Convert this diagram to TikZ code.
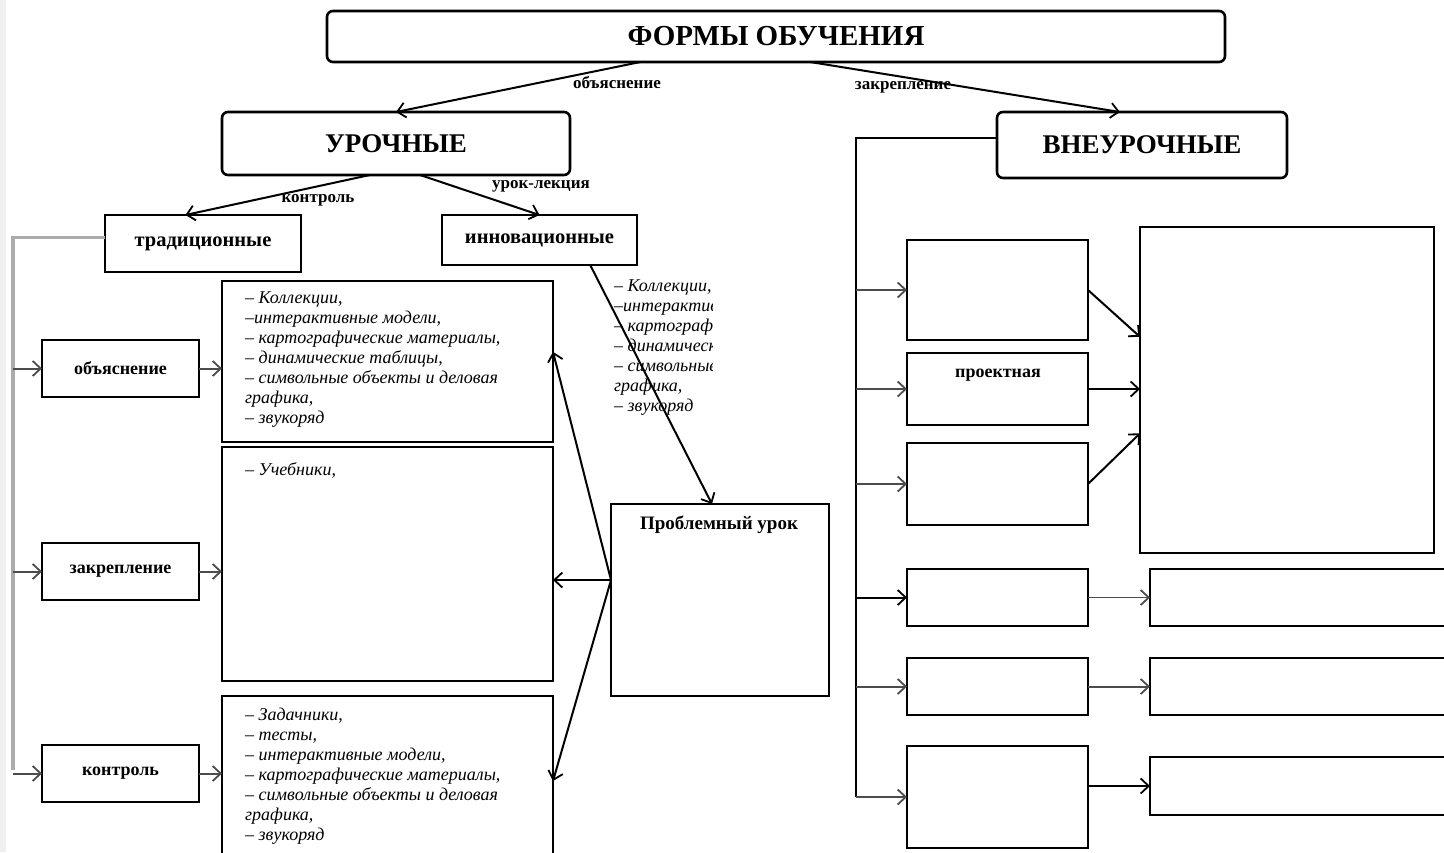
\documentclass[tikz,border=0pt]{standalone}
\usepackage{fontspec}
\setmainfont{Liberation Serif}
\usetikzlibrary{arrows.meta,calc}
\begin{document}
\begin{tikzpicture}[x=1pt,y=-1pt,
  box/.style={draw, line width=2.2pt, inner sep=0pt, outer sep=0pt, anchor=north west},
  rbox/.style={box, line width=2.6pt, rounded corners=6pt},
  big/.style={font=\bfseries\fontsize{27}{30}\selectfont},
  mid/.style={font=\bfseries\fontsize{20.5}{23}\selectfont},
  small/.style={font=\bfseries\fontsize{18}{20}\selectfont},
  lbl/.style={font=\bfseries\fontsize{17}{19}\selectfont, inner sep=0pt},
  listtxt/.style={font=\itshape\fontsize{18}{20}\selectfont, align=left, anchor=north west, inner sep=0pt},
  arr/.style={-{Straight Barb[length=8pt,width=15pt,line width=1.8pt]}, line width=2pt},
  garr/.style={arr, draw=gray!60!black},
  spine/.style={line width=2pt}
]
\useasboundingbox (0,0) rectangle (1444,852);
\fill[gray!12] (0,0) rectangle (6,852);

% top level
\node[rbox, minimum width=898pt, minimum height=51pt, font=\bfseries\fontsize{29}{32}\selectfont] (forms) at (327,11) {ФОРМЫ ОБУЧЕНИЯ};
\node[rbox, minimum width=348pt, minimum height=63pt, big] (uroch) at (222,112) {УРОЧНЫЕ};
\node[rbox, minimum width=290pt, minimum height=66pt, big] (vneur) at (997,112) {ВНЕУРОЧНЫЕ};

\node[lbl] (lob) at (617,82) {объяснение};
\node[lbl] (lzk) at (903,87) {закрепление};
\node[lbl] (lkn) at (318,200) {контроль};
\node[lbl] (lul) at (541,186) {урок-лекция};

% second level
\node[box, minimum width=196pt, minimum height=57pt, mid] (trad) at (105,215) {традиционные};
\node[box, minimum width=195pt, minimum height=50pt, mid] (innov) at (442,215) {инновационные};

% left column
\node[box, minimum width=157pt, minimum height=57pt, small] (obj) at (42,340) {объяснение};
\node[box, minimum width=157pt, minimum height=57pt, small] (zakr) at (42,543) {закрепление};
\node[box, minimum width=157pt, minimum height=57pt, small] (kontr) at (42,745) {контроль};

\node[box, minimum width=331pt, minimum height=161pt] (list1) at (222,281) {};
\node[box, minimum width=331pt, minimum height=234pt] (list2) at (222,447) {};
\node[box, minimum width=331pt, minimum height=170pt] (list3) at (222,696) {};

\node[listtxt] (t1) at (245,292) {– Коллекции,\\–интерактивные модели,\\– картографические материалы,\\– динамические таблицы,\\– символьные объекты и деловая\\графика,\\– звукоряд};
\node[listtxt] (t2) at (245,462) {– Учебники,};
\node[listtxt] (t3) at (245,708) {– Задачники,\\– тесты,\\– интерактивные модели,\\– картографические материалы,\\– символьные объекты и деловая\\графика,\\– звукоряд};

\begin{scope}
  \clip (600,275) rectangle (712,420);
  \node[listtxt] (t4) at (614,280) {– Коллекции,\\–интерактивные модели,\\– картографические материалы,\\– динамические таблицы,\\– символьные объекты и деловая\\графика,\\– звукоряд};
\end{scope}

\node[box, minimum width=218pt, minimum height=192pt] (probl) at (611,504) {};
\node[small, font=\bfseries\fontsize{19}{21}\selectfont] (probltxt) at (719,525) {Проблемный урок};

% right column
\node[box, minimum width=181pt, minimum height=100pt] (r1) at (907,240) {};
\node[box, minimum width=181pt, minimum height=72pt] (r2) at (907,353) {};
\node[small] (r2txt) at (998,375) {проектная};
\node[box, minimum width=181pt, minimum height=82pt] (r3) at (907,443) {};
\node[box, minimum width=294pt, minimum height=326pt] (bigbox) at (1140,227) {};
\node[box, minimum width=181pt, minimum height=57pt] (r4) at (907,569) {};
\node[box, minimum width=320pt, minimum height=57pt] (t4b) at (1150,569) {};
\node[box, minimum width=181pt, minimum height=57pt] (r5) at (907,658) {};
\node[box, minimum width=320pt, minimum height=57pt] (t5b) at (1150,658) {};
\node[box, minimum width=181pt, minimum height=102pt] (r6) at (907,746) {};
\node[box, minimum width=320pt, minimum height=58pt] (t6b) at (1150,757) {};

% top connectors
\draw[arr] ($(forms.south west)!0.349!(forms.south east)$) -- (uroch.north);
\draw[arr] ($(forms.south west)!0.538!(forms.south east)$) -- ($(vneur.north west)!0.424!(vneur.north east)$);
\draw[arr] ($(uroch.south west)!0.425!(uroch.south east)$) -- ($(trad.north west)!0.41!(trad.north east)$);
\draw[arr] ($(uroch.south west)!0.569!(uroch.south east)$) -- (innov.north);
\draw[arr] ($(innov.south west)!0.76!(innov.south east)$) -- ($(probl.north west)!0.463!(probl.north east)$);

% left spine
\coordinate (ls) at (13,770);
\draw[line width=3.2pt, draw=gray!65] ($(trad.north west)!0.4!(trad.south west)$) -| (ls);
\draw[garr] (obj.west -| ls) -- (obj.west);
\draw[garr] (zakr.west -| ls) -- (zakr.west);
\draw[garr] (kontr.west -| ls) -- (kontr.west);
\draw[garr] (obj.east) -- (obj.east -| list1.west);
\draw[garr] (zakr.east) -- (zakr.east -| list2.west);
\draw[garr] (kontr.east) -- (kontr.east -| list3.west);

% problem lesson arrows
\coordinate (pa) at ($(probl.north west)!0.396!(probl.south west)$);
\draw[arr] (pa) -- ($(list1.north east)!0.44!(list1.south east)$);
\draw[arr] (pa) -- (pa -| list2.east);
\draw[arr] (pa) -- ($(list3.north east)!0.5!(list3.south east)$);

% right spine
\coordinate (rs) at (856,797);
\draw[spine] ($(vneur.north west)!0.4!(vneur.south west)$) -| (rs);
\draw[garr] (r1.west -| rs) -- (r1.west);
\draw[garr] (r2.west -| rs) -- (r2.west);
\draw[garr] (r3.west -| rs) -- (r3.west);
\draw[arr] (r4.west -| rs) -- (r4.west);
\draw[garr] (r5.west -| rs) -- (r5.west);
\draw[garr] (r6.west -| rs) -- (r6.west);

\draw[arr] (r1.east) -- ($(bigbox.north west)!0.337!(bigbox.south west)$);
\draw[arr] (r2.east) -- (r2.east -| bigbox.west);
\draw[arr] (r3.east) -- ($(bigbox.north west)!0.633!(bigbox.south west)$);
\draw[garr, line width=1.3pt] (r4.east) -- (r4.east -| t4b.west);
\draw[garr] (r5.east) -- (r5.east -| t5b.west);
\draw[arr] (t6b.west -| r6.east) -- (t6b.west);
\end{tikzpicture}
\end{document}
